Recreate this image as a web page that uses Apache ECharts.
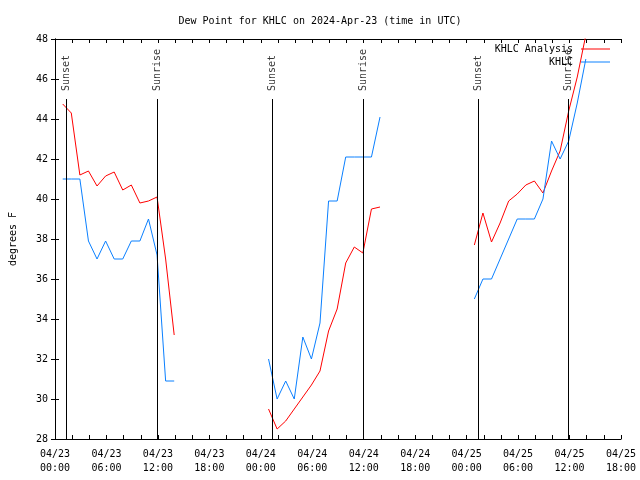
<!DOCTYPE html>
<html>
<head>
<meta charset="utf-8">
<script src="https://cdn.jsdelivr.net/npm/echarts@6/dist/echarts.min.js"></script>
<style>html,body{margin:0;padding:0;background:#fff}#c{width:640px;height:480px}</style>
</head>
<body>
<div id="c"></div>
<script>
// Hours since 04/23 00:00 UTC
var hours1 = [0.9,1.9,2.9,3.9,4.9,5.9,6.9,7.9,8.9,9.9,10.9,11.9,12.9,13.9];
var hours2 = [24.9,25.9,26.9,27.9,28.9,29.9,30.9,31.9,32.9,33.9,34.9,35.9,36.9,37.9];
var hours3 = [48.9,49.9,50.9,51.9,52.9,53.9,54.9,55.9,56.9,57.9,58.9,59.9,60.9,61.9];
var analysis1 = [44.75,44.3,41.2,41.4,40.65,41.15,41.35,40.45,40.7,39.8,39.9,40.1,37.0,33.2];
var analysis2 = [29.5,28.5,28.9,29.5,30.1,30.7,31.4,33.4,34.5,36.8,37.6,37.3,39.5,39.6];
var analysis3 = [37.7,39.3,37.85,38.8,39.9,40.25,40.7,40.9,40.3,41.4,42.4,44.4,46.1,48.2];
var obs1 = [41,41,41,37.9,37,37.9,37,37,37.9,37.9,39,37.2,30.9,30.9];
var obs2 = [32,30,30.9,30,33.1,32,33.8,39.9,39.9,42.1,42.1,42.1,42.1,44.1];
var obs3 = [35,36,36,37,38,39,39,39,40,42.9,42,42.9,44.8,47];
var sunTimes = [1.31,11.97,25.33,35.92,49.35,59.87];
var sunLabels = ['Sunset','Sunrise','Sunset','Sunrise','Sunset','Sunrise'];
var seriesNames = ['KHLC Analysis','KHLC'];
var titleText = 'Dew Point for KHLC on 2024-Apr-23 (time in UTC)';
var yName = 'degrees F';
var sunLineTop = 45;

var FONT = 'DejaVu Sans Mono';
function build(hs, vs) {
  var out = [];
  for (var s = 0; s < hs.length; s++) {
    if (s > 0) out.push([(hs[s-1][hs[s-1].length-1] + hs[s][0]) / 2, '-']);
    for (var i = 0; i < hs[s].length; i++) out.push([hs[s][i], vs[s][i]]);
  }
  return out;
}
var analysisData = build([hours1,hours2,hours3],[analysis1,analysis2,analysis3]);
var obsData = build([hours1,hours2,hours3],[obs1,obs2,obs3]);
var sunPoints = sunTimes.map(function(t,i){return [t, sunLineTop, sunLabels[i]];});
var sunLines = sunTimes.map(function(t){return [{coord:[t,28]},{coord:[t,sunLineTop]}];});

function fmtX(v) {
  var day = 23 + Math.floor(v / 24);
  var hr = v % 24;
  return '04/' + day + '\n' + (hr < 10 ? '0' : '') + hr + ':00';
}
var tickCommon = {show:true, inside:true, length:4, lineStyle:{color:'#000'}};
var minorCommon = {show:true, splitNumber:3, length:4, lineStyle:{color:'#000'}};
var axisLineCommon = {show:true, lineStyle:{color:'#000', width:1}};
var labelText = {fontFamily:FONT, fontSize:10, color:'#000'};

var chart = echarts.init(document.getElementById('c'));
chart.setOption({
  animation:false,
  backgroundColor:'#fff',
  title:{text:titleText, left:'center', top:11, textStyle:{fontFamily:FONT, fontSize:10, fontWeight:'normal', color:'#000'}},
  legend:{data:seriesNames, orient:'vertical', right:30, top:43, padding:0, align:'right', icon:'rect', itemWidth:29, itemHeight:1, itemGap:1,
    textStyle:{fontFamily:FONT, fontSize:10, color:'#000', lineHeight:12, padding:[0,3,0,0]}},
  grid:{left:46, right:19, top:39, bottom:41, containLabel:false},
  xAxis:[{type:'value', min:0, max:66, interval:6, position:'bottom',
    axisLine:axisLineCommon, axisTick:tickCommon, minorTick:minorCommon, splitLine:{show:false},
    axisLabel:{formatter:fmtX, fontFamily:FONT, fontSize:10, color:'#000', lineHeight:14, margin:8}},
   {type:'value', min:0, max:66, interval:6, position:'top',
    axisLine:axisLineCommon, axisTick:tickCommon, minorTick:minorCommon, splitLine:{show:false},
    axisLabel:{show:false}}],
  yAxis:[{type:'value', min:28, max:48, interval:2, position:'left',
    name:yName, nameLocation:'middle', nameRotate:90, nameGap:37, nameTextStyle:labelText,
    axisLine:axisLineCommon, axisTick:tickCommon, splitLine:{show:false},
    axisLabel:{fontFamily:FONT, fontSize:10, color:'#000', margin:7}},
   {type:'value', min:28, max:48, interval:2, position:'right',
    axisLine:axisLineCommon, axisTick:tickCommon, splitLine:{show:false}, axisLabel:{show:false}}],
  series:[
    {name:'sun', type:'scatter', data:sunPoints, symbolSize:0, silent:true,
     label:{show:true, position:'top', distance:8, rotate:90, align:'left', verticalAlign:'middle',
       formatter:function(p){return p.data[2];}, fontFamily:FONT, fontSize:10, color:'#000'},
     markLine:{silent:true, symbol:'none', label:{show:false}, lineStyle:{color:'#000', width:1, type:'solid'}, data:sunLines}},
    {name:seriesNames[0], type:'line', data:analysisData, symbol:'none', connectNulls:false,
     lineStyle:{color:'#ff0000', width:1}, itemStyle:{color:'#ff0000'}},
    {name:seriesNames[1], type:'line', data:obsData, symbol:'none', connectNulls:false,
     lineStyle:{color:'#0a80ff', width:1}, itemStyle:{color:'#0a80ff'}}
  ]
});
</script>
</body>
</html>
